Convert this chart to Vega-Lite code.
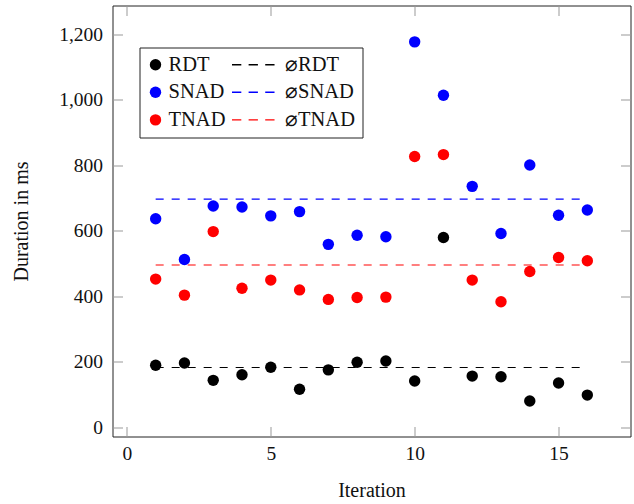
{
  "$schema": "https://vega.github.io/schema/vega-lite/v6.json",
  "width": 518,
  "height": 431,
  "autosize": {"type": "none"},
  "padding": {"left": 112.5, "top": 5.5, "right": 3, "bottom": 67},
  "config": {
    "font": "Liberation Serif",
    "view": {"stroke": "#222222", "strokeWidth": 1},
    "axis": {
      "grid": false,
      "domain": false,
      "tickColor": "#999999",
      "tickSize": -10,
      "labelFont": "Liberation Serif",
      "labelFontSize": 19.5,
      "labelColor": "#111111",
      "titleFont": "Liberation Serif",
      "titleFontSize": 20,
      "titleFontWeight": "normal",
      "titleColor": "#111111"
    }
  },
  "resolve": {"axis": {"x": "independent", "y": "independent"}},
  "layer": [
    {
      "data": {
        "values": [
          {"iter": 1, "value": 189, "series": "RDT"},
          {"iter": 2, "value": 196, "series": "RDT"},
          {"iter": 3, "value": 143, "series": "RDT"},
          {"iter": 4, "value": 160, "series": "RDT"},
          {"iter": 5, "value": 183, "series": "RDT"},
          {"iter": 6, "value": 116, "series": "RDT"},
          {"iter": 7, "value": 175, "series": "RDT"},
          {"iter": 8, "value": 198, "series": "RDT"},
          {"iter": 9, "value": 202, "series": "RDT"},
          {"iter": 10, "value": 141, "series": "RDT"},
          {"iter": 11, "value": 579, "series": "RDT"},
          {"iter": 12, "value": 156, "series": "RDT"},
          {"iter": 13, "value": 154, "series": "RDT"},
          {"iter": 14, "value": 80, "series": "RDT"},
          {"iter": 15, "value": 135, "series": "RDT"},
          {"iter": 16, "value": 98, "series": "RDT"},
          {"iter": 1, "value": 636, "series": "SNAD"},
          {"iter": 2, "value": 512, "series": "SNAD"},
          {"iter": 3, "value": 675, "series": "SNAD"},
          {"iter": 4, "value": 672, "series": "SNAD"},
          {"iter": 5, "value": 645, "series": "SNAD"},
          {"iter": 6, "value": 658, "series": "SNAD"},
          {"iter": 7, "value": 558, "series": "SNAD"},
          {"iter": 8, "value": 586, "series": "SNAD"},
          {"iter": 9, "value": 581, "series": "SNAD"},
          {"iter": 10, "value": 1176, "series": "SNAD"},
          {"iter": 11, "value": 1013, "series": "SNAD"},
          {"iter": 12, "value": 735, "series": "SNAD"},
          {"iter": 13, "value": 591, "series": "SNAD"},
          {"iter": 14, "value": 800, "series": "SNAD"},
          {"iter": 15, "value": 647, "series": "SNAD"},
          {"iter": 16, "value": 663, "series": "SNAD"},
          {"iter": 1, "value": 452, "series": "TNAD"},
          {"iter": 2, "value": 403, "series": "TNAD"},
          {"iter": 3, "value": 597, "series": "TNAD"},
          {"iter": 4, "value": 424, "series": "TNAD"},
          {"iter": 5, "value": 449, "series": "TNAD"},
          {"iter": 6, "value": 419, "series": "TNAD"},
          {"iter": 7, "value": 390, "series": "TNAD"},
          {"iter": 8, "value": 396, "series": "TNAD"},
          {"iter": 9, "value": 397, "series": "TNAD"},
          {"iter": 10, "value": 826, "series": "TNAD"},
          {"iter": 11, "value": 832, "series": "TNAD"},
          {"iter": 12, "value": 449, "series": "TNAD"},
          {"iter": 13, "value": 383, "series": "TNAD"},
          {"iter": 14, "value": 475, "series": "TNAD"},
          {"iter": 15, "value": 518, "series": "TNAD"},
          {"iter": 16, "value": 508, "series": "TNAD"}
        ]
      },
      "mark": {"type": "point", "filled": true, "opacity": 1},
      "encoding": {
        "x": {
          "field": "iter", "type": "quantitative",
          "scale": {"domain": [-0.5, 17.5], "nice": false, "zero": false},
          "axis": {"orient": "bottom", "title": "Iteration", "values": [0, 5, 10, 15], "labelPadding": 18, "titlePadding": 17}
        },
        "y": {
          "field": "value", "type": "quantitative",
          "scale": {"domain": [-28.4, 1287], "nice": false, "zero": false},
          "axis": {"orient": "left", "title": "Duration in ms", "values": [0, 200, 400, 600, 800, 1000, 1200], "format": ",d", "labelPadding": 20, "titlePadding": 27}
        },
        "color": {
          "field": "series", "type": "nominal",
          "scale": {
            "domain": ["RDT", "SNAD", "TNAD", "⌀RDT", "⌀SNAD", "⌀TNAD"],
            "range": ["#000000", "#0000ff", "#ff0000", "#000000", "#0000ff", "#ff0000"]
          },
          "legend": {
            "title": null,
            "orient": "none",
            "legendX": 27,
            "legendY": 42,
            "columns": 2,
            "clipHeight": 20,
            "rowPadding": 6.7,
            "columnPadding": 6.5,
            "padding": 7,
            "labelOffset": 4,
            "labelFont": "Liberation Serif",
            "labelFontSize": 20.5,
            "labelColor": "#111111",
            "symbolStrokeWidth": 0,
            "symbolOpacity": 1,
            "strokeColor": "#222222",
            "fillColor": "#ffffff",
            "cornerRadius": 0,
            "encode": {
              "symbols": {"update": {"x": {"signal": "indexof(datum.value, '⌀') < 0 ? 9 : 24.5"}}},
              "labels": {"update": {"x": {"signal": "indexof(datum.value, '⌀') < 0 ? 22 : 53"}}}
            }
          }
        },
        "shape": {
          "field": "series", "type": "nominal",
          "scale": {
            "domain": ["RDT", "SNAD", "TNAD", "⌀RDT", "⌀SNAD", "⌀TNAD"],
            "range": [
              "circle",
              "circle",
              "circle",
              "M-1,-0.028H-0.62V0.028H-1Z M-0.322,-0.028H0.058V0.028H-0.322Z M0.356,-0.028H0.736V0.028H0.356Z",
              "M-1,-0.028H-0.62V0.028H-1Z M-0.322,-0.028H0.058V0.028H-0.322Z M0.356,-0.028H0.736V0.028H0.356Z",
              "M-1,-0.028H-0.62V0.028H-1Z M-0.322,-0.028H0.058V0.028H-0.322Z M0.356,-0.028H0.736V0.028H0.356Z"
            ]
          }
        },
        "size": {
          "field": "series", "type": "nominal",
          "scale": {
            "type": "ordinal",
            "domain": ["RDT", "SNAD", "TNAD", "⌀RDT", "⌀SNAD", "⌀TNAD"],
            "range": [130, 130, 130, 2401, 2401, 2401]
          }
        }
      }
    },
    {
      "data": {
        "values": [
          {"iter": 1, "value": 182, "series": "⌀RDT"},
          {"iter": 16, "value": 182, "series": "⌀RDT"},
          {"iter": 1, "value": 696, "series": "⌀SNAD"},
          {"iter": 16, "value": 696, "series": "⌀SNAD"},
          {"iter": 1, "value": 495, "series": "⌀TNAD"},
          {"iter": 16, "value": 495, "series": "⌀TNAD"}
        ]
      },
      "mark": {"type": "line", "strokeDash": [8, 8], "strokeWidth": 1.1},
      "encoding": {
        "x": {
          "field": "iter", "type": "quantitative",
          "axis": {"orient": "top", "title": null, "labels": false, "values": [0, 5, 10, 15]}
        },
        "y": {
          "field": "value", "type": "quantitative",
          "axis": {"orient": "right", "title": null, "labels": false, "values": [0, 200, 400, 600, 800, 1000, 1200]}
        },
        "color": {"field": "series", "type": "nominal"}
      }
    }
  ]
}
